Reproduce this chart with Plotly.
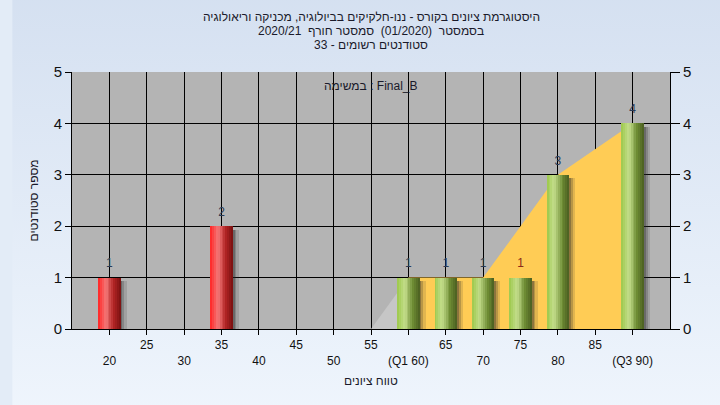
import plotly.graph_objects as go

# ---- data ----
title_lines = [
    "היסטוגרמת ציונים בקורס - ננו-חלקיקים בביולוגיה, מכניקה וריאולוגיה",
    "בסמסטר  (01/2020)  סמסטר חורף  2020/21",
    "סטודנטים רשומים - 33",
]
task_label = "במשימה : Final_B"
x_title = "טווח ציונים"
y_title = "מספר סטודנטים"

fail_x = [20, 35]
fail_y = [1, 2]
pass_x = [60, 65, 70, 75, 80, 90]
pass_y = [1, 1, 1, 1, 3, 4]

below_q1_x = [55, 60]
below_q1_y = [0, 1]
iqr_x = [60, 70, 80, 90]
iqr_y = [1, 1, 3, 4]

odd_ticks = [25, 35, 45, 55, 65, 75, 85]
even_ticks = [20, 30, 40, 50, 60, 70, 80, 90]
even_labels = ["20", "30", "40", "50", "(Q1 60)", "70", "80", "(Q3 90)"]
y_ticks = [0, 1, 2, 3, 4, 5]

# ---- style helpers ----
FONT = "Liberation Sans, DejaVu Sans, Arial, sans-serif"
BAR_W = 3.0
N_STRIPS = 12


def hex2rgb(h):
    h = h.lstrip("#")
    return tuple(int(h[i:i + 2], 16) for i in (0, 2, 4))


def grad(stops, t):
    for (t0, c0), (t1, c1) in zip(stops, stops[1:]):
        if t0 <= t <= t1:
            f = (t - t0) / (t1 - t0) if t1 > t0 else 0
            a, b = hex2rgb(c0), hex2rgb(c1)
            return "rgb(%d,%d,%d)" % tuple(round(a[k] + (b[k] - a[k]) * f) for k in range(3))
    return stops[-1][1]


red_stops = [(0, "#ff2222"), (0.33, "#f47878"), (0.7, "#b02424"), (1, "#781010")]
green_stops = [(0, "#9cc84a"), (0.33, "#c4de8c"), (0.7, "#6e8c34"), (1, "#4a5e20")]

fig = go.Figure()

# areas (main subplot, drawn beneath the overlaid bar subplot)
fig.add_trace(go.Scatter(x=below_q1_x, y=below_q1_y, mode="lines", fill="tozeroy",
                         fillcolor="#c6c6c6", line=dict(width=0), hoverinfo="skip",
                         showlegend=False))
fig.add_trace(go.Scatter(x=iqr_x, y=iqr_y, mode="lines", fill="tozeroy",
                         fillcolor="#ffcc55", line=dict(width=0), hoverinfo="skip",
                         showlegend=False))

# soft shadows to the right of each bar
for xs, ys in ((fail_x, fail_y), (pass_x, pass_y)):
    for sh, al in ((0.25, 0.30), (0.5, 0.22), (0.8, 0.14)):
        fig.add_trace(go.Bar(x=xs, y=[v - 0.07 for v in ys], width=BAR_W,
                             offset=-BAR_W / 2 + sh, yaxis="y2",
                             marker=dict(color="rgba(40,40,40,%.2f)" % al, line=dict(width=0)),
                             hoverinfo="skip", showlegend=False))

# cylinder-like bars built of strips
for xs, ys, stops in ((fail_x, fail_y, red_stops), (pass_x, pass_y, green_stops)):
    sw = BAR_W / N_STRIPS
    for i in range(N_STRIPS):
        t = (i + 0.5) / N_STRIPS
        fig.add_trace(go.Bar(x=xs, y=ys, width=sw * 1.05,
                             offset=-BAR_W / 2 + i * sw, yaxis="y2",
                             marker=dict(color=grad(stops, t), line=dict(width=0)),
                             hoverinfo="skip", showlegend=False))

# value labels
all_x = fail_x + pass_x
all_y = fail_y + pass_y
label_colors = ["#2a3a55"] * len(all_x)
label_colors[all_x.index(75)] = "#8a2a1a"
fig.add_trace(go.Scatter(x=all_x, y=all_y, mode="markers+text", text=[str(v) for v in all_y],
                         textposition="top center", yaxis="y2",
                         marker=dict(size=10, color="rgba(0,0,0,0)"),
                         textfont=dict(family=FONT, size=12, color=label_colors),
                         hoverinfo="skip", showlegend=False))

# dummy trace so the secondary x axis (even labels) renders
fig.add_trace(go.Scatter(x=[None], y=[None], xaxis="x2", showlegend=False))

fig.update_layout(
    width=720, height=405,
    margin=dict(l=72, r=50, t=72, b=76),
    paper_bgcolor="#e3ecf7",
    plot_bgcolor="rgba(0,0,0,0)",
    barmode="overlay",
    bargap=0,
    showlegend=False,
    hovermode=False,
    font=dict(family=FONT, color="#111111"),
    xaxis=dict(range=[15, 95], tickvals=odd_ticks + even_ticks,
               ticktext=[str(v) for v in odd_ticks] + [""] * len(even_ticks),
               showgrid=True, gridcolor="#000000", gridwidth=1,
               ticks="outside", ticklen=5, tickcolor="#000000",
               showline=True, linecolor="#000000", linewidth=1,
               tickfont=dict(size=12, color="#111111"), zeroline=False,
               automargin=False),
    xaxis2=dict(range=[15, 95], overlaying="x", anchor="y", side="bottom",
                tickvals=even_ticks, ticktext=even_labels, showgrid=False,
                ticks="", showline=False, ticklabelstandoff=23,
                tickfont=dict(size=12, color="#111111"), zeroline=False,
                automargin=False),
    yaxis=dict(range=[0, 5], tickvals=y_ticks, showgrid=True, gridcolor="#000000",
               gridwidth=1, ticks="outside", ticklen=6, tickcolor="#000000",
               showline=True, linecolor="#000000", linewidth=1,
               tickfont=dict(size=15, color="#111111"), zeroline=False,
               automargin=False),
    yaxis2=dict(range=[0, 5], tickvals=y_ticks, overlaying="y", side="right",
                showgrid=False, ticks="outside", ticklen=9, tickcolor="#000000",
                showline=True, linecolor="#000000", linewidth=1,
                tickfont=dict(size=15, color="#111111"), zeroline=False,
                automargin=False),
)

# background gradient and plot area
svg = ("data:image/svg+xml;utf8,<svg xmlns='http://www.w3.org/2000/svg' width='720' height='405'>"
       "<defs><linearGradient id='g' x1='0' y1='0' x2='0' y2='1'>"
       "<stop offset='0' stop-color='%23d3dff0'/><stop offset='1' stop-color='%23f0f6fd'/>"
       "</linearGradient></defs><rect width='720' height='405' fill='url(%23g)'/></svg>")
fig.add_layout_image(dict(source=svg, xref="paper", yref="paper", x=-0.1, y=1.4,
                          sizex=1.3, sizey=1.8, xanchor="left", yanchor="top",
                          sizing="stretch", layer="below"))
fig.add_shape(type="rect", xref="x domain", yref="y domain", x0=0, x1=1, y0=0, y1=1,
              fillcolor="#b4b4b4", line=dict(width=0), layer="below")

# titles
for i, line in enumerate(title_lines):
    fig.add_annotation(text=line, xref="paper", yref="paper", x=0.5, xanchor="center",
                       y=1, yshift=72 - (17 + 14 * i), yanchor="middle",
                       showarrow=False, font=dict(size=12, color="#1a1a2a"))
fig.add_annotation(text=task_label, xref="paper", yref="paper", x=0.5, y=1,
                   yshift=-14, yanchor="middle", showarrow=False,
                   font=dict(size=12, color="#1a1a2a"))
fig.add_annotation(text=x_title, xref="paper", yref="paper", x=0.5, xanchor="center",
                   y=0, yshift=-52, yanchor="middle", showarrow=False,
                   font=dict(size=12, color="#1a1a2a"))
fig.add_annotation(text=y_title, xref="paper", yref="paper", x=0, xshift=-39,
                   xanchor="center", y=0.5, textangle=-90, showarrow=False,
                   font=dict(size=12, color="#1a1a2a"))

fig.write_html("out.html", config={"displayModeBar": False, "staticPlot": True},
               post_script="document.body.style.margin='0';")
